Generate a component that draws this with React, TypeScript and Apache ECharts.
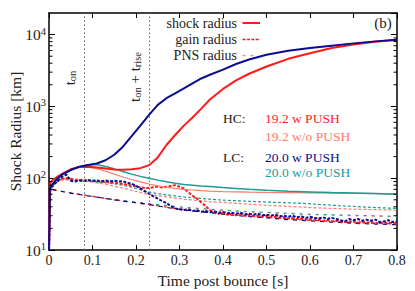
import React, { useEffect, useRef } from 'react';
import * as echarts from 'echarts';

const FONT = 'Liberation Serif, Times New Roman, serif';

const C_RED = '#ff1a1a';
const C_SALMON = '#ff7a68';
const C_NAVY = '#0c0c8e';
const C_TEAL = '#1a9c97';

// x-axis (time post bounce, s) and y-axis (radius, km)
const xTicks = [0, 0.1, 0.2, 0.3, 0.4, 0.5, 0.6, 0.7, 0.8];
const yMajor = [10, 100, 1000, 10000];
const yMinorTicks = [20, 30, 40, 50, 60, 70, 80, 90, 200, 300, 400, 500, 600, 700, 800, 900,
  2000, 3000, 4000, 5000, 6000, 7000, 8000, 9000];
const markerTimes = [0.078, 0.228]; // t_on, t_on + t_rise

// shock radii
const tShock = [0, 0.002, 0.005, 0.01, 0.02, 0.03, 0.05, 0.07, 0.09, 0.11, 0.13, 0.15, 0.17, 0.19, 0.21,
  0.23, 0.25, 0.27, 0.29, 0.31, 0.33, 0.35, 0.37, 0.40, 0.43, 0.46, 0.50, 0.55, 0.60, 0.65, 0.70, 0.75, 0.80];
const shock192Push = [10, 80, 90, 96, 105, 115, 133, 143, 144, 141, 136, 132, 131, 133, 138,
  152, 195, 290, 400, 540, 700, 930, 1250, 1750, 2300, 2850, 3600, 4600, 5500, 6500, 7300, 7950, 8500];
const shock192NoPush = [10, 80, 90, 96, 105, 115, 133, 143, 142, 136, 125, 114, 104, 96, 89,
  83, 78, 74.5, 72, 70, 68.5, 67, 66, 65, 64.5, 64, 63.5, 63, 62.5, 62, 61.5, 61, 60];
const shock200Push = [10, 72, 78, 85, 100, 112, 130, 145, 153, 160, 178, 212, 275, 385, 540,
  760, 1050, 1300, 1520, 1780, 2100, 2450, 2760, 3250, 3900, 4500, 5250, 5950, 6500, 7000, 7550, 8050, 8500];
const shock200NoPush = [10, 72, 78, 85, 100, 112, 130, 145, 153, 155, 146, 135, 124, 114, 106,
  100, 94, 89, 85, 82, 80, 78, 76.5, 74, 72, 70, 68, 66, 64.5, 63, 62, 61, 60];

// gain radii (with PUSH, jagged)
const tGain = [0, 0.003, 0.01, 0.02, 0.03, 0.04, 0.05, 0.06, 0.07, 0.08, 0.09, 0.10, 0.11, 0.12, 0.13, 0.14,
  0.15, 0.16, 0.17, 0.18, 0.19, 0.20, 0.21, 0.22, 0.23, 0.24, 0.25, 0.26, 0.27, 0.28, 0.29, 0.30, 0.31, 0.32,
  0.33, 0.34, 0.35, 0.36, 0.37, 0.38, 0.39, 0.40, 0.41, 0.42, 0.43, 0.44, 0.45, 0.46, 0.47, 0.48, 0.49, 0.50,
  0.51, 0.52, 0.53, 0.54, 0.55, 0.56, 0.57, 0.58, 0.59, 0.60, 0.61, 0.62, 0.63, 0.64, 0.65, 0.66, 0.67, 0.68,
  0.69, 0.70, 0.71, 0.72, 0.73, 0.74, 0.75, 0.76, 0.77, 0.78, 0.79, 0.80];
const gain200Push = [10, 72, 80, 92, 105, 112, 92, 90, 93, 91, 94, 92, 93, 90, 93, 91,
  92, 90, 91, 86, 84, 78, 72, 66, 61, 56, 52, 48, 45, 41, 38, 37, 36, 37,
  35, 36, 34, 35, 33.5, 34.5, 33, 34, 32.5, 33, 32, 33, 31.5, 32, 31, 32, 30.5, 31,
  30, 31, 29.5, 30, 29, 30, 28.5, 29.5, 28, 29, 28, 27.5, 28.5, 27, 28, 27, 26, 25,
  27, 26, 27, 25.5, 26.5, 25.5, 26.5, 24.5, 25, 26, 24.5, 25];
const gain192Push = [10, 72, 82, 92, 98, 100, 98, 96, 95, 94, 93, 92, 91, 90, 89, 88,
  86, 85, 83, 81, 79, 77, 75, 73, 73, 75, 76, 74, 76, 78, 80, 76, 72, 64,
  57, 52, 46, 41, 36, 33, 32, 33, 31, 32, 30.5, 31.5, 30, 31, 29.5, 30, 29, 30,
  28.5, 29, 28, 28.5, 27.5, 28, 27, 27.5, 26.5, 27, 26, 26.5, 25.5, 26, 25, 25.5, 25, 24.5,
  25, 24.5, 24, 24.5, 24, 24.5, 23.5, 24, 23.5, 24, 23.5, 23.5];

// gain radii (without PUSH)
const tGainNoPush = [0, 0.003, 0.01, 0.02, 0.03, 0.05, 0.07, 0.10, 0.13, 0.16, 0.19, 0.22, 0.25, 0.28,
  0.31, 0.34, 0.37, 0.40, 0.45, 0.50, 0.55, 0.60, 0.65, 0.70, 0.75, 0.80];
const gain192NoPush = [10, 72, 82, 90, 94, 95, 93, 88, 82, 75, 68, 61, 57, 54,
  51, 49, 47, 46, 44, 42, 40.5, 39, 38, 37, 36.5, 36];
const gain200NoPush = [10, 72, 80, 90, 100, 95, 92, 90, 87, 82, 75, 66, 61, 57.5,
  55, 53, 51, 49.5, 48, 46.5, 45.5, 44, 42, 40.5, 39, 38];

// PNS radii
const tPns = [0, 0.003, 0.02, 0.05, 0.08, 0.11, 0.14, 0.17, 0.20, 0.23, 0.26, 0.29, 0.32, 0.36, 0.40,
  0.45, 0.50, 0.55, 0.60, 0.65, 0.70, 0.75, 0.80];
const pns192Push = [10, 71, 67, 62, 58, 54.5, 51, 48, 45.5, 43, 40.5, 38, 36, 34, 32,
  30, 28.5, 27, 26, 25, 24, 23.5, 23];
const pns200Push = [10, 71, 67, 62, 58, 54.5, 51, 48, 45.5, 43, 40, 37.5, 35.5, 33.5, 31.5,
  29.5, 28, 26.5, 25.5, 24.5, 23.5, 23, 22.5];
const pns192NoPush = [10, 71, 67, 62.5, 58.5, 55, 51.5, 48.5, 46, 44, 42, 40, 38.5, 37, 35.5,
  34, 33, 32, 31, 30.5, 30, 29.5, 29];
const pns200NoPush = [10, 71, 67, 62.5, 58.5, 55, 52, 49, 46.5, 44.5, 42.5, 40.5, 39, 37.5, 36,
  34.5, 33.5, 32.5, 31.5, 31, 30.5, 30, 29.5];

const pairs = (t: number[], v: number[]) => t.map((x, i) => [x, v[i]]);

function line(name: string, t: number[], v: number[], color: string, width: number, type: any, z = 2) {
  return {
    type: 'line', name, data: pairs(t, v), showSymbol: false, symbol: 'none', z,
    lineStyle: { color, width, type }, itemStyle: { color }, silent: true, clip: true,
  };
}

export default function App() {
  const ref = useRef<HTMLDivElement>(null);
  useEffect(() => {
    if (!ref.current) return;
    const chart = echarts.init(ref.current, undefined, { renderer: 'svg' });
    const axisCommon = {
      axisLine: { show: true, onZero: false, lineStyle: { color: '#000', width: 1.5 } },
      splitLine: { show: false },
    };
    const supRich = {
      b: { fontSize: 15.5, fontFamily: FONT, color: '#222', lineHeight: 18 },
      s: { fontSize: 10.5, fontFamily: FONT, color: '#222', verticalAlign: 'top', lineHeight: 10 },
    };
    const subRich = {
      b: { fontSize: 15, fontFamily: FONT, color: '#222', lineHeight: 18 },
      s: { fontSize: 10.5, fontFamily: FONT, color: '#222', verticalAlign: 'bottom', lineHeight: 11 },
    };
    const textStyle = (x: number, y: number, text: string, color: string, size: number, align = 'left') => ({
      type: 'text', x, y, silent: true,
      style: { text, fill: color, fontFamily: FONT, fontSize: size, align, verticalAlign: 'middle' },
    });
    const legendRows = [
      { label: 'shock radius', y: 23, dash: null, w: 2, x2: 260, color: C_RED },
      { label: 'gain radius', y: 39.5, dash: [3, 1.4], w: 1.6, x2: 260, color: C_RED },
      { label: 'PNS radius', y: 55.5, dash: [3, 5], w: 1.4, x2: 254, color: '#ff8c8c' },
    ];
    const option: any = {
      animation: false,
      backgroundColor: '#fff',
      grid: { left: 49, top: 13, right: 18, bottom: 41, containLabel: false, outerBoundsMode: 'none' },
      xAxis: [
        {
          type: 'value', min: 0, max: 0.8, interval: 0.1, position: 'bottom',
          ...axisCommon,
          name: 'Time post bounce [s]', nameLocation: 'middle', nameGap: 22, nameMoveOverlap: false,
          nameTextStyle: { fontFamily: FONT, fontSize: 15.5, color: '#222' },
          axisTick: { inside: true, length: 5, lineStyle: { color: '#000', width: 1 } },
          axisLabel: {
            fontFamily: FONT, fontSize: 14, color: '#222', margin: 3,
            formatter: (v: number) => (xTicks.indexOf(Math.round(v * 10) / 10) >= 0 ? String(Math.round(v * 10) / 10) : ''),
          },
        },
        {
          type: 'value', min: 0, max: 0.8, interval: 0.1, position: 'top',
          ...axisCommon,
          axisTick: { inside: true, length: 5, lineStyle: { color: '#000', width: 1 } },
          axisLabel: { show: false },
        },
      ],
      yAxis: [
        {
          type: 'log', logBase: 10, min: 10, max: 20000, position: 'left',
          ...axisCommon,
          name: 'Shock Radius [km]', nameLocation: 'middle', nameGap: 26, nameMoveOverlap: false,
          nameTextStyle: { fontFamily: FONT, fontSize: 15.5, color: '#222' },
          axisTick: { inside: true, length: 6, lineStyle: { color: '#000', width: 1 } },
          axisLabel: {
            margin: 3, showMaxLabel: false,
            formatter: (v: number) => {
              if (yMajor.indexOf(Math.round(v)) < 0) return '';
              return `{b|10}{s|${Math.round(Math.log10(v))}}`;
            },
            rich: supRich,
          },
        },
        {
          type: 'log', logBase: 10, min: 10, max: 20000, position: 'right',
          ...axisCommon,
          axisTick: { inside: true, length: 6, lineStyle: { color: '#000', width: 1 } },
          axisLabel: { show: false },
        },
      ],
      series: [
        {
          ...line('PNS 19.2 w/o', tPns, pns192NoPush, C_SALMON, 1, [3, 5], 1),
          markLine: {
            silent: true, symbol: ['none', 'none'], label: { show: false },
            lineStyle: { color: '#666', width: 1, type: [1.5, 2.5] },
            data: markerTimes.map((t) => ({ xAxis: t })),
          },
        },
        line('PNS 20.0 w/o', tPns, pns200NoPush, C_TEAL, 1, [3, 5], 1),
        line('PNS 19.2 w', tPns, pns192Push, C_RED, 1.2, [4, 4], 1),
        line('PNS 20.0 w', tPns, pns200Push, C_NAVY, 1.2, [4, 5], 1),
        line('gain 19.2 w/o', tGainNoPush, gain192NoPush, C_SALMON, 1.2, [3, 2], 2),
        line('gain 20.0 w/o', tGainNoPush, gain200NoPush, C_TEAL, 1.2, [3, 2], 2),
        line('gain 19.2 w', tGain, gain192Push, C_RED, 2, [3, 1.5], 3),
        line('gain 20.0 w', tGain, gain200Push, C_NAVY, 2, [3, 1.5], 3),
        line('shock 19.2 w/o', tShock, shock192NoPush, C_SALMON, 1.2, 'solid', 4),
        line('shock 20.0 w/o', tShock, shock200NoPush, C_TEAL, 1.5, 'solid', 4),
        line('shock 19.2 w', tShock, shock192Push, C_RED, 2, 'solid', 5),
        line('shock 20.0 w', tShock, shock200Push, C_NAVY, 2, 'solid', 5),
        {
          type: 'custom', silent: true, clip: false, z: 10,
          data: yMinorTicks.map((v) => [0, v]),
          encode: { x: 0, y: 1 },
          renderItem: (_p: any, api: any) => {
            const v = api.value(1);
            const l = api.coord([0, v]);
            const r = api.coord([0.8, v]);
            return {
              type: 'group',
              children: [
                { type: 'line', shape: { x1: l[0], y1: l[1], x2: l[0] + 3.5, y2: l[1] }, style: { stroke: '#000', lineWidth: 1 } },
                { type: 'line', shape: { x1: r[0] - 3.5, y1: r[1], x2: r[0], y2: r[1] }, style: { stroke: '#000', lineWidth: 1 } },
              ],
            };
          },
        },
      ],
      graphic: [
        ...legendRows.map((r) => textStyle(237, r.y, r.label, '#222', 14, 'right')),
        ...legendRows.map((r) => ({
          type: 'line', silent: true,
          shape: { x1: 242.5, y1: r.y, x2: r.x2, y2: r.y },
          style: { stroke: r.color, lineWidth: r.w, lineDash: r.dash },
        })),
        textStyle(383, 23, '(b)', '#222', 15, 'center'),
        textStyle(223, 118.5, 'HC:', '#222', 13.5),
        textStyle(265, 118.5, '19.2 w PUSH', C_RED, 13.5),
        textStyle(265, 136, '19.2 w/o PUSH', C_SALMON, 13.5),
        textStyle(223, 157, 'LC:', '#222', 13.5),
        textStyle(265, 157, '20.0 w PUSH', C_NAVY, 13.5),
        textStyle(265, 172.5, '20.0 w/o PUSH', C_TEAL, 13.5),
        {
          type: 'text', x: 70, y: 78, rotation: Math.PI / 2, silent: true,
          style: { text: 't{s|on}', rich: subRich, align: 'center', verticalAlign: 'middle', fontFamily: FONT, fontSize: 15, fill: '#222' },
        },
        {
          type: 'text', x: 135, y: 77, rotation: Math.PI / 2, silent: true,
          style: { text: 't{s|on} + t{s|rise}', rich: subRich, align: 'center', verticalAlign: 'middle', fontFamily: FONT, fontSize: 15, fill: '#222' },
        },
      ],
    };
    chart.setOption(option);
    return () => chart.dispose();
  }, []);
  return <div ref={ref} style={{ position: 'absolute', left: 0, top: 0, width: 415, height: 291 }} />;
}
